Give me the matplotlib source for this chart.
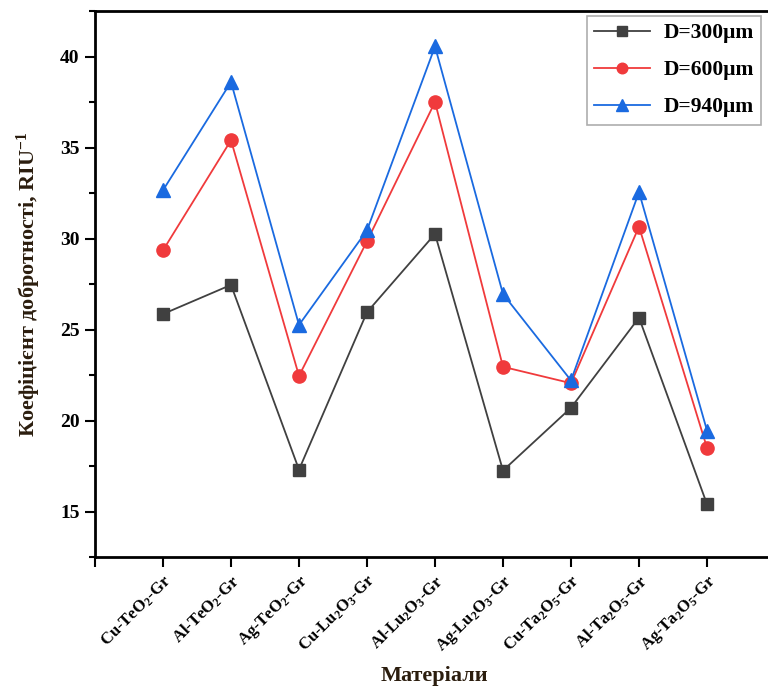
import matplotlib
matplotlib.use("Agg")
import matplotlib.pyplot as plt
from matplotlib.ticker import MultipleLocator

materials = ["Cu-TeO$_2$-Gr", "Al-TeO$_2$-Gr", "Ag-TeO$_2$-Gr",
             "Cu-Lu$_2$O$_3$-Gr", "Al-Lu$_2$O$_3$-Gr", "Ag-Lu$_2$O$_3$-Gr",
             "Cu-Ta$_2$O$_5$-Gr", "Al-Ta$_2$O$_5$-Gr", "Ag-Ta$_2$O$_5$-Gr"]
d300 = [25.85, 27.45, 17.3, 25.95, 30.25, 17.25, 20.7, 25.65, 15.4]
d600 = [29.35, 35.4, 22.45, 29.85, 37.5, 22.95, 22.05, 30.65, 18.5]
d940 = [32.65, 38.6, 25.25, 30.45, 40.55, 26.95, 22.2, 32.55, 19.45]

plt.rcParams['font.family'] = ['Liberation Serif', 'DejaVu Serif']
plt.rcParams['font.weight'] = 'bold'
plt.rcParams['mathtext.fontset'] = 'custom'
plt.rcParams['mathtext.rm'] = 'Liberation Serif:bold'
plt.rcParams['mathtext.it'] = 'Liberation Serif:bold'
plt.rcParams['mathtext.bf'] = 'Liberation Serif:bold'

fig = plt.figure(figsize=(7.68, 6.92), dpi=100)
ax = fig.add_axes([95 / 768, 135 / 692, 680 / 768, 546 / 692])

x = list(range(1, len(materials) + 1))
ax.plot(x, d300, color='#404040', marker='s', markersize=8.5, lw=1.3, label='D=300μm')
ax.plot(x, d600, color='#f03a3c', marker='o', markersize=9.5, lw=1.3, label='D=600μm')
ax.plot(x, d940, color='#1a6ae0', marker='^', markersize=10, lw=1.3, label='D=940μm')

ax.set_xlim(0, 10)
ax.set_ylim(12.5, 42.5)
ax.set_xticks(range(0, 10))
ax.set_xticklabels([''] + materials, rotation=45, ha='right', rotation_mode='anchor',
                   fontsize=12, fontweight='bold')
ax.yaxis.set_major_locator(MultipleLocator(5))
ax.yaxis.set_minor_locator(MultipleLocator(2.5))
ax.set_yticks([15, 20, 25, 30, 35, 40])
ax.tick_params(axis='both', which='major', direction='out', length=7, width=1.5, pad=4)
ax.tick_params(axis='y', which='major', labelsize=14)
ax.tick_params(axis='y', which='minor', direction='out', length=4, width=1.5)
for lab in ax.get_yticklabels():
    lab.set_fontweight('bold')

ax.spines['right'].set_visible(False)
for s in ['left', 'top', 'bottom']:
    ax.spines[s].set_linewidth(2)

ax.set_ylabel('Коефіцієнт добротності, RIU$^{-1}$', fontsize=16, fontweight='bold',
              color='#2b1d0e')
ax.yaxis.set_label_coords(-0.076, 0.5)
ax.set_xlabel('Матеріали', fontsize=16, fontweight='bold', color='#2b1d0e')
ax.xaxis.set_label_coords(0.499, -0.2)

leg = ax.legend(loc='upper left', bbox_to_anchor=(0.72, 0.995), fontsize=15.5,
                frameon=True, fancybox=False, edgecolor='#999999',
                handlelength=2.6, borderaxespad=0.1, labelspacing=0.78,
                markerscale=0.8, borderpad=0.35, handletextpad=0.6)
leg.get_frame().set_linewidth(1.2)
for t in leg.get_texts():
    t.set_fontweight('bold')

fig.savefig('out.png', dpi=100)
